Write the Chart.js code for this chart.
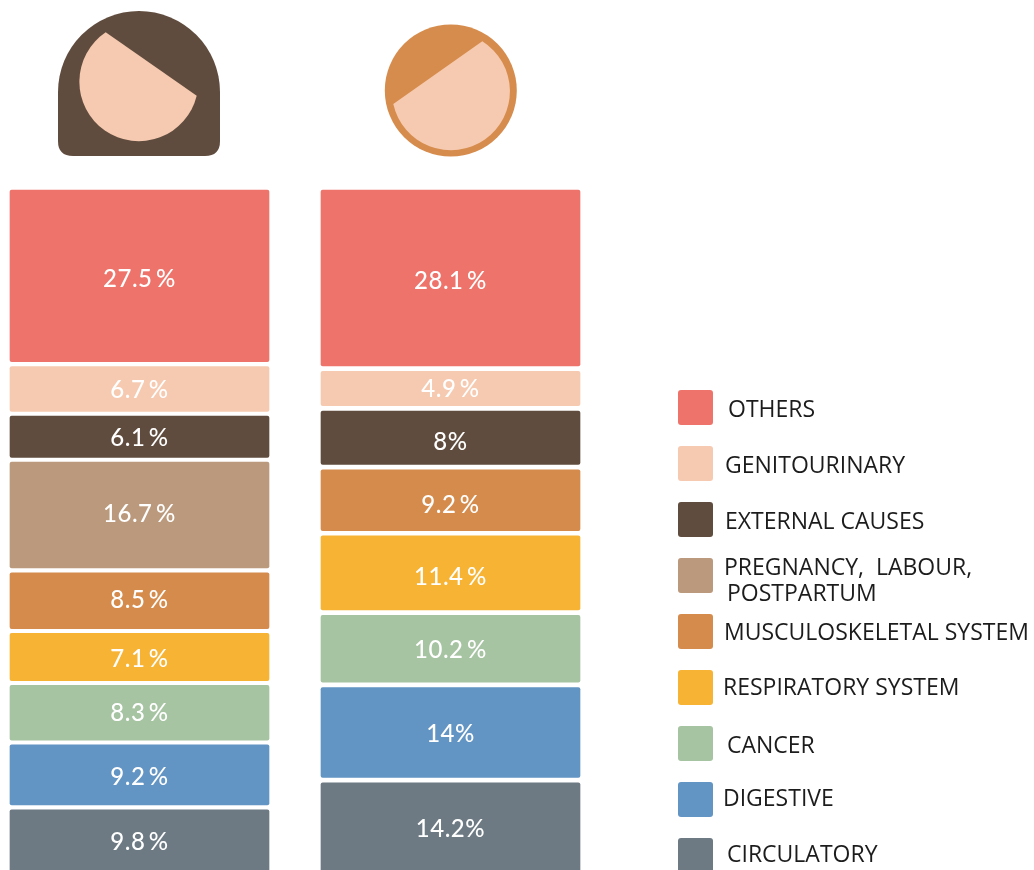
<!DOCTYPE html>
<html>
<head>
<meta charset="utf-8">
<title>Causes of hospital admission</title>
<script src="https://cdn.jsdelivr.net/npm/chart.js@4/dist/chart.umd.min.js"></script>
<style>
  html, body { margin: 0; padding: 0; background: #fff; overflow: hidden; }
  #wrap { position: relative; width: 1034px; height: 870px; overflow: hidden; }
  #faces { position: absolute; left: 0; top: 0; }
  .swatch { position: absolute; left: 678px; width: 35px; height: 35px; border-radius: 3px; }
  .legend-text {
    position: absolute; white-space: pre; color: #1c1c1c; line-height: 26px;
    font-family: "Open Sans", sans-serif; font-size: 23px; transform: translateY(-13px);
  }
</style>
</head>
<body>
<div id="wrap">
  <canvas id="chart"></canvas>
  <svg id="faces" width="600" height="170">
    <path d="M58 92 A81 81 0 0 1 220 92 V141 Q220 156 205 156 H73 Q58 156 58 141 Z" fill="#604c3e"/>
    <path d="M105.7 32.3 L196.7 95.7 A59.5 59.5 0 1 1 105.7 32.3 Z" fill="#f6cab0"/>
    <circle cx="450.8" cy="90.5" r="66" fill="#d68c4d"/>
    <path d="M482.3 41.3 A59 59 0 1 1 393.3 104 Z" fill="#f6cab0"/>
  </svg>
</div>
<script>
const categories = ['Women', 'Men'];

const others = [27.5, 28.1];
const genitourinary = [6.7, 4.9];
const externalCauses = [6.1, 8];
const pregnancy = [16.7, null];
const musculoskeletal = [8.5, 9.2];
const respiratory = [7.1, 11.4];
const cancer = [8.3, 10.2];
const digestive = [9.2, 14];
const circulatory = [9.8, 14.2];

const seriesList = [
  { label: 'OTHERS', values: others, color: '#ee746b' },
  { label: 'GENITOURINARY', values: genitourinary, color: '#f6cab0' },
  { label: 'EXTERNAL CAUSES', values: externalCauses, color: '#604c3e' },
  { label: 'PREGNANCY,  LABOUR,\nPOSTPARTUM', values: pregnancy, color: '#bb997c' },
  { label: 'MUSCULOSKELETAL SYSTEM', values: musculoskeletal, color: '#d58b4c' },
  { label: 'RESPIRATORY SYSTEM', values: respiratory, color: '#f7b334' },
  { label: 'CANCER', values: cancer, color: '#a6c3a2' },
  { label: 'DIGESTIVE', values: digestive, color: '#6294c4' },
  { label: 'CIRCULATORY', values: circulatory, color: '#6d7a83' }
];

// the bars carry a little fixed extra height, and a white gap, in value units per column
const extraHeight = [0.66, 0.75];
const gap = [0.78, 0.88];

// these labels are written without the space before the %
const tightLabels = [8, 14, 14.2];

// legend text x, y of each line
const legendText = [
  [[728, 408]],
  [[725, 464]],
  [[725, 520]],
  [[724, 566], [727, 592]],
  [[724, 631]],
  [[723, 686]],
  [[727, 744]],
  [[723, 797]],
  [[727, 853]]
];

// label y nudge in px from the middle of the bar
const labelNudge = [
  [3, 3], [1, 1], [2, 4], [-1, null], [0, 5], [2, 4], [0, 1], [2, 2], [2, 3]
];

const wrap = document.getElementById('wrap');
seriesList.forEach((s, i) => {
  const box = document.createElement('div');
  box.className = 'swatch';
  box.style.top = (390 + i * 56) + 'px';
  box.style.background = s.color;
  wrap.appendChild(box);
  s.label.split('\n').forEach((line, j) => {
    const text = document.createElement('div');
    text.className = 'legend-text';
    text.textContent = line;
    text.style.left = legendText[i][j][0] + 'px';
    text.style.top = legendText[i][j][1] + 'px';
    wrap.appendChild(text);
  });
});

function floatingBars() {
  const next = categories.map(() => 0);
  return seriesList.map(s => {
    const data = s.values.map((v, c) => {
      if (v === null) return null;
      const bar = [next[c], next[c] + v + extraHeight[c]];
      next[c] = bar[1] + gap[c];
      return bar;
    });
    return {
      label: s.label.replace('\n', ' '),
      data: data,
      backgroundColor: s.color,
      borderRadius: 2,
      borderSkipped: false,
      barThickness: 259,
      grouped: false,
      clip: false
    };
  });
}

const valueLabels = {
  id: 'valueLabels',
  afterDatasetsDraw(chart) {
    const ctx = chart.ctx;
    ctx.save();
    ctx.fillStyle = '#fff';
    ctx.font = '500 24px Lato, sans-serif';
    ctx.letterSpacing = '0.5px';
    ctx.textAlign = 'center';
    ctx.textBaseline = 'middle';
    seriesList.forEach((s, d) => {
      chart.getDatasetMeta(d).data.forEach((bar, c) => {
        const v = s.values[c];
        if (v === null) return;
        const props = bar.getProps(['x', 'y', 'base'], true);
        const bottom = Math.min(Math.max(props.y, props.base), chart.chartArea.bottom);
        const top = Math.min(props.y, props.base);
        const text = tightLabels.includes(v) ? v + '%' : v + '\u2009%';
        ctx.fillText(text, props.x, (top + bottom) / 2 + labelNudge[d][c]);
      });
    });
    ctx.restore();
  }
};

new Chart(document.getElementById('chart').getContext('2d'), {
  type: 'bar',
  data: { labels: categories, datasets: floatingBars() },
  options: {
    responsive: true,
    maintainAspectRatio: false,
    animation: false,
    layout: { padding: { left: 139.5, right: 583.5, top: 190, bottom: 0 } },
    plugins: { legend: { display: false }, tooltip: { enabled: false } },
    scales: {
      x: { display: false, offset: false, grid: { display: false } },
      y: { display: false, reverse: true, min: 0, max: 111.5, grid: { display: false } }
    }
  },
  plugins: [valueLabels]
});
</script>
</body>
</html>
